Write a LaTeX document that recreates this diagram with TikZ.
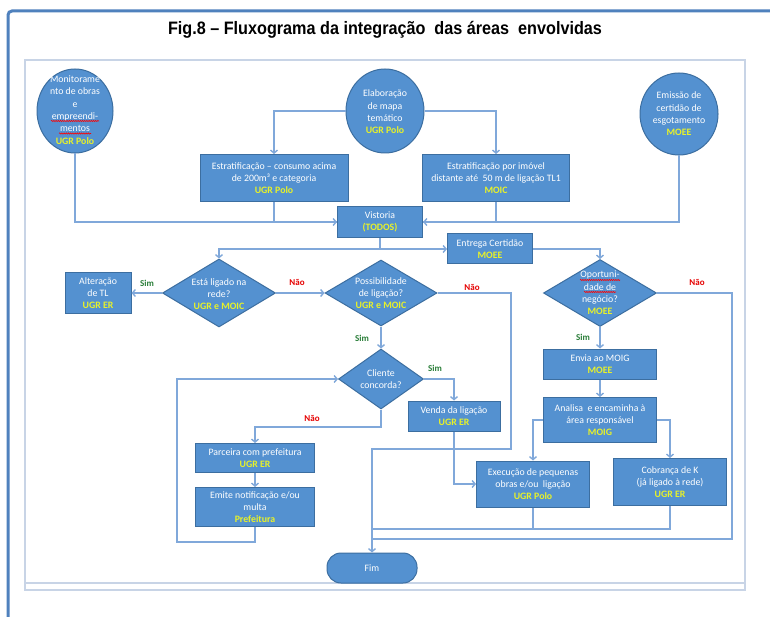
\documentclass[tikz,border=0pt]{standalone}
\usepackage{fontspec}
\setmainfont{Carlito}
\newfontfamily\titlefont[FakeStretch=0.9]{Liberation Sans}
\usetikzlibrary{shapes.geometric,arrows.meta,decorations.pathmorphing}
\definecolor{frameblue}{RGB}{79,129,189}
\definecolor{innerframe}{RGB}{200,212,230}
\definecolor{nodefill}{RGB}{84,145,208}
\definecolor{nodeedge}{RGB}{60,110,160}
\definecolor{linkblue}{RGB}{128,168,218}
\definecolor{agyellow}{RGB}{232,242,40}
\definecolor{simgreen}{RGB}{40,125,55}
\definecolor{naored}{RGB}{230,0,0}
\newcommand\ag[1]{\textbf{\textcolor{agyellow}{#1}}}
\tikzset{
  every node/.style={font=\fontsize{9.8}{12.3}\selectfont, text=white, align=center, inner sep=0pt},
  box/.style={draw=nodeedge, fill=nodefill, line width=1pt, rectangle},
  oval/.style={draw=nodeedge, fill=nodefill, line width=1pt, ellipse},
  dia/.style={draw=nodeedge, fill=nodefill, line width=1pt, diamond},
  con/.style={draw=linkblue, line width=1.4pt},
  arr/.style={con, -{Straight Barb[length=3pt,width=7pt]}},
  simlbl/.style={text=simgreen, font=\fontsize{9}{11}\selectfont\bfseries},
  naolbl/.style={text=naored, font=\fontsize{9}{11}\selectfont\bfseries},
  wavy/.style={draw=red, line width=0.6pt, decorate, decoration={snake, amplitude=0.6pt, segment length=2.2pt}},
}
\begin{document}
\begin{tikzpicture}[x=1pt,y=-1pt]
\useasboundingbox (0,0) rectangle (770,617);
\fill[white] (0,0) rectangle (770,617);
% frames
\draw[frameblue, line width=3pt, rounded corners=4pt] (8,620) -- (8,11) -- (775,11);
\draw[innerframe, line width=1.5pt] (25,60) rectangle (745,590);
\draw[innerframe, line width=1.5pt] (25,583) -- (745,583);
\node[text=black, font=\titlefont\fontsize{18}{21}\selectfont\bfseries] (title) at (385,30) {Fig.8 – Fluxograma da integração\ \ das áreas\ \ envolvidas};

% top ovals
\node[oval, minimum width=76pt, minimum height=84pt] (e1) at (75,111) {};
\node (e1t) at (75,110) {Monitorame\\nto de obras\\e\\empreendi-\\mentos\\\ag{UGR Polo}};
\node[oval, minimum width=78pt, minimum height=84pt] (e2) at (385,111) {};
\node (e2t) at (385,112) {Elaboração\\de mapa\\temático\\\ag{UGR Polo}};
\node[oval, minimum width=78pt, minimum height=82pt] (e3) at (679,114) {};
\node (e3t) at (679,114) {Emissão de\\certidão de\\esgotamento\\\ag{MOEE}};

% boxes
\node[box, minimum width=148pt, minimum height=47pt] (b3) at (274,178) {Estratificação – consumo acima\\de 200m³ e categoria\\\ag{UGR Polo}};
\node[box, minimum width=147pt, minimum height=47pt] (b4) at (496,178) {Estratificação por imóvel\\distante até\ \ 50 m de ligação TL1\\\ag{MOIC}};
\node[box, minimum width=85pt, minimum height=31pt] (vis) at (380,222) {Vistoria\\\ag{(TODOS)}};
\node[box, minimum width=85pt, minimum height=30pt] (ent) at (490,249) {Entrega Certidão\\\ag{MOEE}};

% row of diamonds
\node[dia, minimum width=113pt, minimum height=68pt] (d1) at (219,293) {};
\node (d1t) at (219,294) {Está ligado na\\rede?\\\ag{UGR e MOIC}};
\node[box, minimum width=66pt, minimum height=40pt] (alt) at (98,293) {Alteração\\de TL\\\ag{UGR ER}};
\node[dia, minimum width=112pt, minimum height=66pt] (d2) at (381,293) {};
\node (d2t) at (381,293) {Possibilidade\\de ligação?\\\ag{UGR e MOIC}};
\node[dia, minimum width=113pt, minimum height=67pt] (d3) at (600,293) {};
\node (d3t) at (600,293) {Oportuni-\\dade de\\negócio?\\\ag{MOEE}};

\node[dia, minimum width=85pt, minimum height=60pt] (d4) at (381,379) {};
\node (d4t) at (381,379) {Cliente\\concorda?};
\node[box, minimum width=92pt, minimum height=30pt] (ven) at (454,416) {Venda da ligação\\\ag{UGR ER}};
\node[box, minimum width=119pt, minimum height=29pt] (parc) at (255,458) {Parceira com prefeitura\\\ag{UGR ER}};
\node[box, minimum width=119pt, minimum height=39pt] (emi) at (255,507) {Emite notificação e/ou\\multa\\\ag{Prefeitura}};

\node[box, minimum width=113pt, minimum height=30pt] (env) at (600,364) {Envia ao MOIG\\\ag{MOEE}};
\node[box, minimum width=113pt, minimum height=45pt] (ana) at (600,420) {Analisa\ \ e encaminha à\\área responsável\\\ag{MOIG}};
\node[box, minimum width=113pt, minimum height=46pt] (exe) at (533,484) {Execução de pequenas\\obras e/ou\ \ ligação\\\ag{UGR Polo}};
\node[box, minimum width=113pt, minimum height=47pt] (cob) at (670,482) {Cobrança de K\\(já ligado à rede)\\\ag{UGR ER}};
\node[box, rounded corners=14pt, minimum width=90pt, minimum height=30pt] (fim) at (372,568) {Fim};

% spell-check underlines
\draw[wavy] ([shift={(-24,11)}]e1t.center) -- ([shift={(24,11)}]e1t.center);
\draw[wavy] ([shift={(-16,23.5)}]e1t.center) -- ([shift={(16,23.5)}]e1t.center);
\draw[wavy] ([shift={(-20,-13)}]d3t.center) -- ([shift={(20,-13)}]d3t.center);
\draw[wavy] ([shift={(-16,-1)}]d3t.center) -- ([shift={(16,-1)}]d3t.center);

% helper coordinates
\coordinate (j1) at (380,249);
\coordinate (c2) at (511,449);
\coordinate (c3) at (381,427);
\coordinate (c4) at (177,542);
\coordinate (c5) at (732,539);
\coordinate (c6) at (372,529);

% connectors
\draw[arr] (e2.west) -| (b3.north);
\draw[arr] (e2.east) -| (b4.north);
\draw[con] (b3.south) |- (vis.west);
\draw[arr] (e1.south) |- (vis.west);
\draw[con] (b4.south) |- (vis.east);
\draw[arr] (e3.south) |- (vis.east);
\draw[con] (vis.south) -- (j1);
\draw[arr] (j1) -| (d1.north);
\draw[arr] (j1) -- (ent.west);
\draw[arr] (ent.east) -| (d3.north);
\draw[arr] (d1.west) -- (alt.east);
\draw[arr] (d1.east) -- (d2.west);
\draw[arr] (d2.east) -| (c2) -| (fim.north);
\draw[arr] (d2.south) -- (d4.north);
\draw[arr] (d4.east) -| (ven.north);
\draw[arr] (ven.south) |- (exe.west);
\draw[arr] (d4.south) -- (c3) -| (parc.north);
\draw[arr] (parc.south) -- (emi.north);
\draw[arr] (emi.south) |- (c4) |- (d4.west);
\draw[con] (d3.east) -| (c5) -- (c5 -| fim.north);
\draw[arr] (d3.south) -- (env.north);
\draw[arr] (env.south) -- (ana.north);
\draw[arr] (ana.west) -| (exe.north);
\draw[arr] (ana.east) -| (cob.north);
\draw[con] (exe.south) |- (c6);
\draw[con] (cob.south) |- (exe.south |- c6);

% labels
\node[simlbl] (s1) at (147,283) {Sim};
\node[naolbl] (n1) at (297,282) {Não};
\node[naolbl] (n2) at (472,287) {Não};
\node[simlbl] (s2) at (362,338) {Sim};
\node[simlbl] (s3) at (435,368) {Sim};
\node[naolbl] (n3) at (312,418) {Não};
\node[naolbl] (n4) at (697,282) {Não};
\node[simlbl] (s4) at (583,337) {Sim};
\end{tikzpicture}
\end{document}
